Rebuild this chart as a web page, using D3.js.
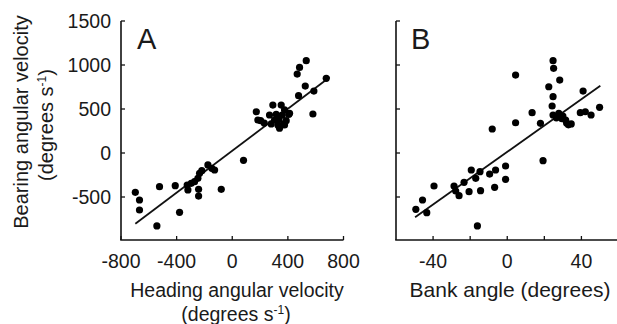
<!DOCTYPE html>
<html><head><meta charset="utf-8">
<script src="https://cdn.jsdelivr.net/npm/d3@7"></script>
<style>
body{margin:0;background:#fff;}
text{font-family:"Liberation Sans",Arial,sans-serif;fill:#1a1a1a;}
</style></head>
<body>
<svg id="c" width="617" height="324"></svg>
<script>
// ---- data ----
const headingA = [-697,-667,-667,-542,-523,-410,-379,-319,-324,-295,-271,-247,-235,-219,-175,-147,-127,-242,-242,-79,
  81,173,184,204,292,268,352,376,412,304,328,340,376,388,359,335,316,280,369,407,
  532,484,467,676,525,587,477,580,230];
const bearingA = [-447,-534,-648,-829,-383,-371,-674,-420,-364,-345,-326,-288,-231,-201,-136,-174,-193,-413,-489,-413,
  -83,469,375,367,545,432,545,489,451,375,318,281,318,367,430,380,440,330,330,440,
  1049,973,897,849,761,704,651,443,340];
const bankB = [-49.3,-45.7,-43.4,-39.5,-28.7,-27.8,-26,-23.3,-20.6,-19.4,-17,-14.7,-14.4,-16.1,-9.5,-6.8,-6.3,-0.9,-0.9,-8.1,
  4.5,4.5,13.4,17.9,19.3,22.4,24.7,25,28.3,24.7,24.2,24.7,27.8,30,31.5,33,29.5,32,34.5,40.9,42.1,45.2,49.8,39.4,26.5];
const bearingB = [-640,-534,-678,-375,-375,-432,-485,-333,-440,-193,-288,-212,-428,-829,-239,-390,-193,-148,-299,273,
  886,344,458,337,-87,753,1049,962,829,640,534,432,451,420,375,320,390,340,330,704,469,432,519,458,400];
const fitA = {x:[-697,700], y:[-803,860]};
const fitB = {x:[-49.7,50.2], y:[-731,765]};
const yTicks = [-500,0,500,1000,1500];
const xTicksA = [-800,-400,0,400,800];
const xTicksB = [-40,-20,0,20,40];
const xLabelsB = [-40,0,40];

// ---- chart ----
const svg = d3.select("#c");
const fs = 19.5;
const y = d3.scaleLinear().domain([-1000,1500]).range([241,21]);
const xA = d3.scaleLinear().domain([-800,800]).range([121,343.5]);
const xB = d3.scaleLinear().domain([-60,60]).range([396,618.5]);

function panel(x, xs, ys, fit, xTicks, xLabels, letter, letterX, showYLabels){
  const g = svg.append("g");
  g.append("line").attr("x1",x.range()[0]).attr("x2",x.range()[0]).attr("y1",y(1500)).attr("y2",240)
    .attr("stroke","#111").attr("stroke-width",1.6);
  g.append("line").attr("x1",x.range()[0]-0.8).attr("x2",x.range()[1]).attr("y1",240).attr("y2",240)
    .attr("stroke","#111").attr("stroke-width",1.6);
  g.selectAll(".yt").data(yTicks).join("line")
    .attr("x1",x.range()[0]).attr("x2",x.range()[0]+4)
    .attr("y1",d=>y(d)).attr("y2",d=>y(d)).attr("stroke","#111").attr("stroke-width",1.3);
  g.selectAll(".xt").data(xTicks).join("line")
    .attr("x1",d=>x(d)).attr("x2",d=>x(d)).attr("y1",240).attr("y2",236)
    .attr("stroke","#111").attr("stroke-width",1.3);
  if(showYLabels){
    g.selectAll(".yl").data(yTicks).join("text")
      .attr("x",111).attr("y",d=>y(d)).attr("dy","0.36em")
      .attr("text-anchor","end").attr("font-size",fs).text(d=>d);
  }
  g.selectAll(".xl").data(xLabels).join("text")
    .attr("x",d=>x(d)).attr("y",267.5).attr("text-anchor","middle")
    .attr("font-size",fs).text(d=>d);
  g.append("line").attr("x1",x(fit.x[0])).attr("y1",y(fit.y[0]))
    .attr("x2",x(fit.x[1])).attr("y2",y(fit.y[1]))
    .attr("stroke","#111").attr("stroke-width",1.8);
  g.selectAll("circle").data(xs.map((v,i)=>[v,ys[i]])).join("circle")
    .attr("cx",d=>x(d[0])).attr("cy",d=>y(d[1])).attr("r",3.6).attr("fill","#000");
  g.append("text").attr("x",letterX).attr("y",49).attr("font-size",29).text(letter);
}
panel(xA, headingA, bearingA, fitA, xTicksA, xTicksA, "A", 137, true);
panel(xB, bankB, bearingB, fitB, xTicksB, xLabelsB, "B", 411, false);

// axis titles
svg.append("text").attr("transform","translate(27.5,122) rotate(-90)")
  .attr("text-anchor","middle").attr("font-size",20).text("Bearing angular velocity");
const yt2 = svg.append("text").attr("transform","translate(53,125) rotate(-90)")
  .attr("text-anchor","middle").attr("font-size",20);
yt2.append("tspan").text("(degrees s");
yt2.append("tspan").attr("dy",-7).attr("font-size",12).text("-1");
yt2.append("tspan").attr("dy",7).text(")");

svg.append("text").attr("x",237).attr("y",297).attr("text-anchor","middle")
  .attr("font-size",fs).text("Heading angular velocity");
const xt2 = svg.append("text").attr("x",236).attr("y",321).attr("text-anchor","middle").attr("font-size",fs);
xt2.append("tspan").text("(degrees s");
xt2.append("tspan").attr("dy",-7).attr("font-size",12).text("-1");
xt2.append("tspan").attr("dy",7).text(")");

svg.append("text").attr("x",510).attr("y",297).attr("text-anchor","middle")
  .attr("font-size",21).text("Bank angle (degrees)");
</script>
</body></html>
